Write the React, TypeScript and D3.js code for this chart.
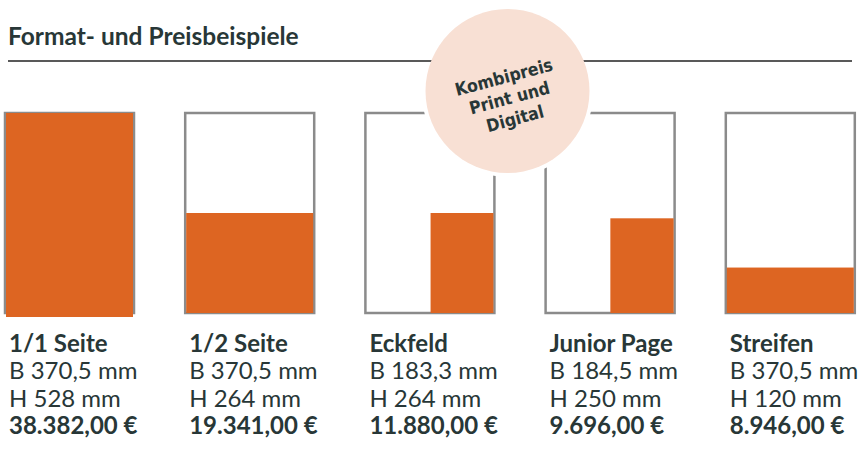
import React, { useEffect, useRef } from "react";
import * as d3 from "d3";

// Formate (Breite x Höhe in mm) und Kombipreise
const formats = ["1/1 Seite", "1/2 Seite", "Eckfeld", "Junior Page", "Streifen"];
const widthsMm = [370.5, 370.5, 183.3, 184.5, 370.5];
const heightsMm = [528, 264, 264, 250, 120];
const prices = [38382, 19341, 11880, 9696, 8946];
const badgeLines = ["Kombipreis", "Print und", "Digital"];
const title = "Format- und Preisbeispiele";

const W = 860;
const H = 451;
const orange = "#dd6522";
const outline = "#8b8b8b";
const ink = "#283737";
const font = "Lato, 'Open Sans', sans-serif";

const fmtNum = d3.formatLocale({
  decimal: ",",
  thousands: ".",
  grouping: [3],
  currency: ["", " €"],
}).format(",.2f");
const fmtMm = (v: number) => String(v).replace(".", ",");

export default function App() {
  const ref = useRef<SVGSVGElement>(null);

  useEffect(() => {
    const svg = d3.select(ref.current);
    svg.selectAll("*").remove();

    const pageW = 129;
    const pageTop = 113;
    const pageBottom = 313;

    const x = d3.scaleBand().domain(formats).range([5, 5 + 180.2 * 5]);
    const sx = d3.scaleLinear().domain([0, 370.5]).range([0, pageW - 2]);
    const sy = d3.scaleLinear().domain([0, 528]).range([0, pageBottom - pageTop]);

    // title
    svg.append("text")
      .attr("x", 8).attr("y", 45)
      .attr("font-family", font).attr("font-weight", 700)
      .attr("font-size", 24.5).attr("fill", ink)
      .text(title);

    const pages = svg.append("g")
      .selectAll("g")
      .data(formats)
      .join("g")
      .attr("transform", (d) => `translate(${x(d)},0)`);

    pages.append("rect")
      .attr("x", 0).attr("y", pageTop)
      .attr("width", pageW).attr("height", pageBottom - pageTop)
      .attr("fill", "#fff")
      .attr("stroke", outline).attr("stroke-width", 2.5);

    pages.append("rect")
      .attr("x", (d, i) => pageW - 1 - sx(widthsMm[i]))
      .attr("y", (d, i) => pageBottom - sy(heightsMm[i]))
      .attr("width", (d, i) => sx(widthsMm[i]))
      .attr("height", (d, i) => sy(heightsMm[i]) + (i === 0 ? 4 : 0))
      .attr("fill", orange);

    const rows = [
      (i: number) => formats[i],
      (i: number) => `B ${fmtMm(widthsMm[i])} mm`,
      (i: number) => `H ${fmtMm(heightsMm[i])} mm`,
      (i: number) => `${fmtNum(prices[i])} €`,
    ];
    rows.forEach((row, r) => {
      pages.append("text")
        .attr("x", 4)
        .attr("y", 352 + r * 27.3)
        .attr("font-family", font)
        .attr("font-size", 24)
        .attr("font-weight", r === 0 || r === 3 ? 700 : 400)
        .attr("fill", ink)
        .text((d, i) => row(i));
    });

    // badge
    const cx = 507.5, cy = 91, rad = 82;
    svg.append("circle").attr("cx", cx).attr("cy", cy).attr("r", rad + 4).attr("fill", "#fff");
    svg.append("line")
      .attr("x1", 8).attr("x2", 852).attr("y1", 61).attr("y2", 61)
      .attr("stroke", "#222").attr("stroke-width", 1.5);
    svg.append("circle").attr("cx", cx).attr("cy", cy).attr("r", rad).attr("fill", "#f8e0d4");

    const badge = svg.append("g").attr("transform", `translate(${cx + 2},${cy + 7}) rotate(-15)`);
    badge.selectAll("text")
      .data(badgeLines)
      .join("text")
      .attr("x", 0)
      .attr("y", (d, i) => (i - 1) * 21.5 + 6)
      .attr("text-anchor", "middle")
      .attr("font-family", "'DejaVu Sans Condensed', 'DejaVu Sans', sans-serif")
      .attr("font-stretch", "condensed")
      .attr("font-weight", 700)
      .attr("font-size", 17.5)
      .attr("fill", ink)
      .text((d) => d);
  }, []);

  return (
    <svg ref={ref} width={W} height={H} viewBox={`0 0 ${W} ${H}`}
      style={{ position: "absolute", left: 0, top: 0, background: "#fff" }} />
  );
}
